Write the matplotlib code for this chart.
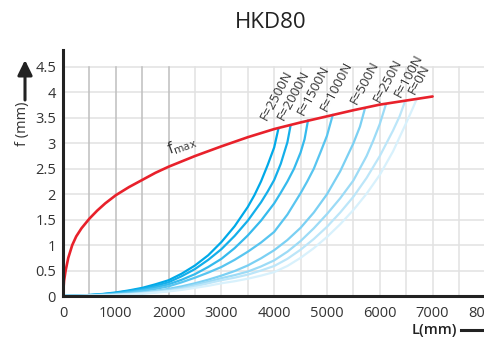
import matplotlib
matplotlib.use("Agg")
import matplotlib.pyplot as plt
from matplotlib.patches import FancyArrowPatch
from matplotlib.lines import Line2D

plt.rcParams["font.family"] = ["Open Sans", "DejaVu Sans"]
plt.rcParams["mathtext.fontset"] = "custom"
plt.rcParams["mathtext.rm"] = "Open Sans"
plt.rcParams["mathtext.it"] = "Open Sans"

# ── data ────────────────────────────────────────────────────────────────
fmax_L = [0, 20, 50, 100, 175, 250, 350, 500, 650, 800, 1000, 1250, 1500, 1750,
          2000, 2500, 3000, 3500, 4000, 4500, 5000, 5500, 6000, 6500, 7000]
fmax_f = [0, 0.3, 0.5, 0.75, 1.0, 1.17, 1.33, 1.52, 1.68, 1.82, 1.98, 2.14, 2.28, 2.42,
          2.54, 2.75, 2.94, 3.12, 3.28, 3.41, 3.53, 3.65, 3.76, 3.84, 3.92]

load_labels = ["F=2500N", "F=2000N", "F=1500N", "F=1000N",
               "F=500N", "F=250N", "F=100N", "F=0N"]

L_2500 = [0, 250, 500, 750, 1000, 1250, 1500, 1750, 2000, 2250, 2500, 2750, 3000,
          3250, 3500, 3625, 3750, 3875, 4000, 4078]
f_2500 = [0, 0.005, 0.02, 0.04, 0.07, 0.11, 0.16, 0.23, 0.31, 0.44, 0.6, 0.8, 1.06,
          1.37, 1.75, 1.98, 2.25, 2.57, 2.92, 3.28]

L_2000 = [0, 250, 500, 750, 1000, 1250, 1500, 1750, 2000, 2250, 2500, 2750, 3000,
          3250, 3500, 3750, 3875, 4000, 4125, 4250, 4310]
f_2000 = [0, 0.005, 0.02, 0.035, 0.06, 0.1, 0.14, 0.2, 0.27, 0.39, 0.53, 0.71, 0.92,
          1.18, 1.48, 1.84, 2.05, 2.28, 2.6, 3.02, 3.35]

L_1500 = [0, 250, 500, 750, 1000, 1250, 1500, 1750, 2000, 2250, 2500, 2750, 3000,
          3250, 3500, 3750, 4000, 4125, 4250, 4375, 4500, 4575, 4640]
f_1500 = [0, 0.004, 0.015, 0.03, 0.05, 0.08, 0.12, 0.17, 0.23, 0.32, 0.43, 0.57, 0.73,
          0.94, 1.19, 1.48, 1.82, 2.03, 2.25, 2.5, 2.82, 3.08, 3.45]

L_1000 = [0, 250, 500, 750, 1000, 1250, 1500, 1750, 2000, 2250, 2500, 2750, 3000,
          3250, 3500, 3750, 4000, 4250, 4500, 4625, 4750, 4875, 5000, 5110]
f_1000 = [0, 0.003, 0.01, 0.025, 0.04, 0.065, 0.1, 0.14, 0.19, 0.27, 0.36, 0.46, 0.57,
          0.71, 0.87, 1.05, 1.26, 1.6, 2.02, 2.25, 2.5, 2.82, 3.15, 3.56]

L_500 = [0, 250, 500, 750, 1000, 1250, 1500, 1750, 2000, 2250, 2500, 2750, 3000,
         3250, 3500, 3750, 4000, 4250, 4500, 4750, 5000, 5250, 5500, 5625, 5720]
f_500 = [0, 0.003, 0.01, 0.02, 0.03, 0.05, 0.07, 0.1, 0.14, 0.19, 0.25, 0.32, 0.4,
         0.49, 0.6, 0.74, 0.9, 1.1, 1.34, 1.64, 2.0, 2.45, 3.0, 3.33, 3.69]

L_250 = [0, 250, 500, 750, 1000, 1250, 1500, 1750, 2000, 2250, 2500, 2750, 3000,
         3250, 3500, 3750, 4000, 4250, 4500, 4750, 5000, 5250, 5500, 5750, 5875, 6000, 6117]
f_250 = [0, 0.002, 0.008, 0.015, 0.025, 0.04, 0.06, 0.09, 0.12, 0.16, 0.22, 0.28, 0.35,
         0.41, 0.48, 0.58, 0.7, 0.87, 1.08, 1.33, 1.61, 1.92, 2.27, 2.75, 3.05, 3.38, 3.77]

L_100 = [0, 250, 500, 750, 1000, 1250, 1500, 1750, 2000, 2250, 2500, 2750, 3000,
         3250, 3500, 3750, 4000, 4250, 4500, 4750, 5000, 5250, 5500, 5750, 6000, 6250, 6375, 6477]
f_100 = [0, 0.002, 0.007, 0.013, 0.02, 0.035, 0.05, 0.075, 0.1, 0.14, 0.19, 0.25, 0.31,
         0.36, 0.42, 0.5, 0.59, 0.73, 0.91, 1.12, 1.36, 1.64, 1.95, 2.32, 2.75, 3.25, 3.53, 3.82]

L_0 = [0, 250, 500, 750, 1000, 1250, 1500, 1750, 2000, 2250, 2500, 2750, 3000,
       3250, 3500, 3750, 4000, 4250, 4500, 4750, 5000, 5250, 5500, 5750, 6000, 6250, 6500, 6600, 6700]
f_0 = [0, 0.001, 0.005, 0.012, 0.02, 0.03, 0.045, 0.065, 0.09, 0.12, 0.16, 0.2, 0.25,
       0.29, 0.34, 0.4, 0.47, 0.59, 0.75, 0.94, 1.16, 1.41, 1.69, 2.01, 2.38, 2.84, 3.4, 3.63, 3.87]

load_L = [L_2500, L_2000, L_1500, L_1000, L_500, L_250, L_100, L_0]
load_f = [f_2500, f_2000, f_1500, f_1000, f_500, f_250, f_100, f_0]

x_ticks = [0, 1000, 2000, 3000, 4000, 5000, 6000, 7000, 8000]
y_ticks = [0, 0.5, 1, 1.5, 2, 2.5, 3, 3.5, 4, 4.5]
y_ticklabels = ["0", "0.5", "1", "1.5", "2", "2.5", "3", "3.5", "4", "4.5"]

# ── style ───────────────────────────────────────────────────────────────
RED = "#e8212b"
BLUES = ["#00a9e8", "#14afea", "#35baed", "#58c5f0", "#7bd0f3",
         "#9cdbf6", "#bce6f9", "#d8f1fc"]
# label offset from curve end, in pixels (x right, y up)
LABEL_OFFSETS = [(-12, 8), (-7, 4), (-4, 4), (-6, 3), (-8, 3), (-6, 1), (-4, 4), (-2, 4)]
TXT = "#333333"
GRID_LIGHT = "#e2e2e2"
GRID_DARK = "#bfbfbf"

fig = plt.figure(figsize=(4.85, 3.38), dpi=100)
ax = fig.add_axes([63 / 485, 42 / 338, 427 / 485, 246 / 338])
ax.set_xlim(0, 427 / 52.8 * 1000)
ax.set_ylim(0, 246 / 50.9)

# grid: horizontal full width, vertical only up to 4.5
for y in y_ticks[1:]:
    ax.axhline(y, color=GRID_LIGHT, lw=1.1, zorder=0)
for x in range(500, 8001, 500):
    c = GRID_DARK if x <= 2000 else GRID_LIGHT
    ax.plot([x, x], [0, 4.5], color=c, lw=1.1, zorder=0)

ax.plot(fmax_L, fmax_f, color=RED, lw=1.9, zorder=4, solid_capstyle="round")

for L, f, col, lab, off in zip(load_L, load_f, BLUES, load_labels, LABEL_OFFSETS):
    ax.plot(L, f, color=col, lw=1.6, zorder=3, solid_capstyle="round")
    ax.annotate(lab, xy=(L[-1], f[-1]), xytext=off, textcoords="offset pixels",
                rotation=62, rotation_mode="anchor", ha="left", va="baseline",
                fontsize=9.5, color=TXT)

ax.text(2250, 2.7, r"f$_{\mathrm{max}}$", rotation=20, fontsize=11.5,
        color=TXT, ha="center", va="bottom")

ax.set_xticks(x_ticks)
ax.set_xticklabels([str(v) for v in x_ticks])
ax.set_yticks(y_ticks)
ax.set_yticklabels(y_ticklabels)
ax.tick_params(length=0, labelsize=10.5, labelcolor=TXT, pad=5)
ax.tick_params(axis="x", pad=7)

for s in ["top", "right"]:
    ax.spines[s].set_visible(False)
for s in ["left", "bottom"]:
    ax.spines[s].set_linewidth(2.2)
    ax.spines[s].set_color("#222222")
    ax.spines[s].set_zorder(5)

fig.text(271 / 485, 1 - 22 / 338, "HKD80", ha="center", va="center",
         fontsize=16, color="#222222")

# y axis label with arrow
fig.text(23 / 485, 1 - 124 / 338, "f (mm)", rotation=90, ha="center",
         va="center", fontsize=10.5, color=TXT)
fig.add_artist(FancyArrowPatch(
    (25 / 485, 1 - 100 / 338), (25 / 485, 1 - 60 / 338), transform=fig.transFigure,
    arrowstyle="-|>,head_length=0.45,head_width=0.22", color="#222222", lw=2.2,
    mutation_scale=20, shrinkA=0, shrinkB=0))

# x axis label with arrow
fig.text(434 / 485, 1 - 330 / 338, "L(mm)", ha="center", va="center",
         fontsize=10.5, fontweight="semibold", color="#222222")
fig.add_artist(Line2D(
    [461 / 485, 1.0], [1 - 330 / 338, 1 - 330 / 338], transform=fig.transFigure,
    color="#222222", lw=2.2))

fig.savefig("out.png", dpi=100)
